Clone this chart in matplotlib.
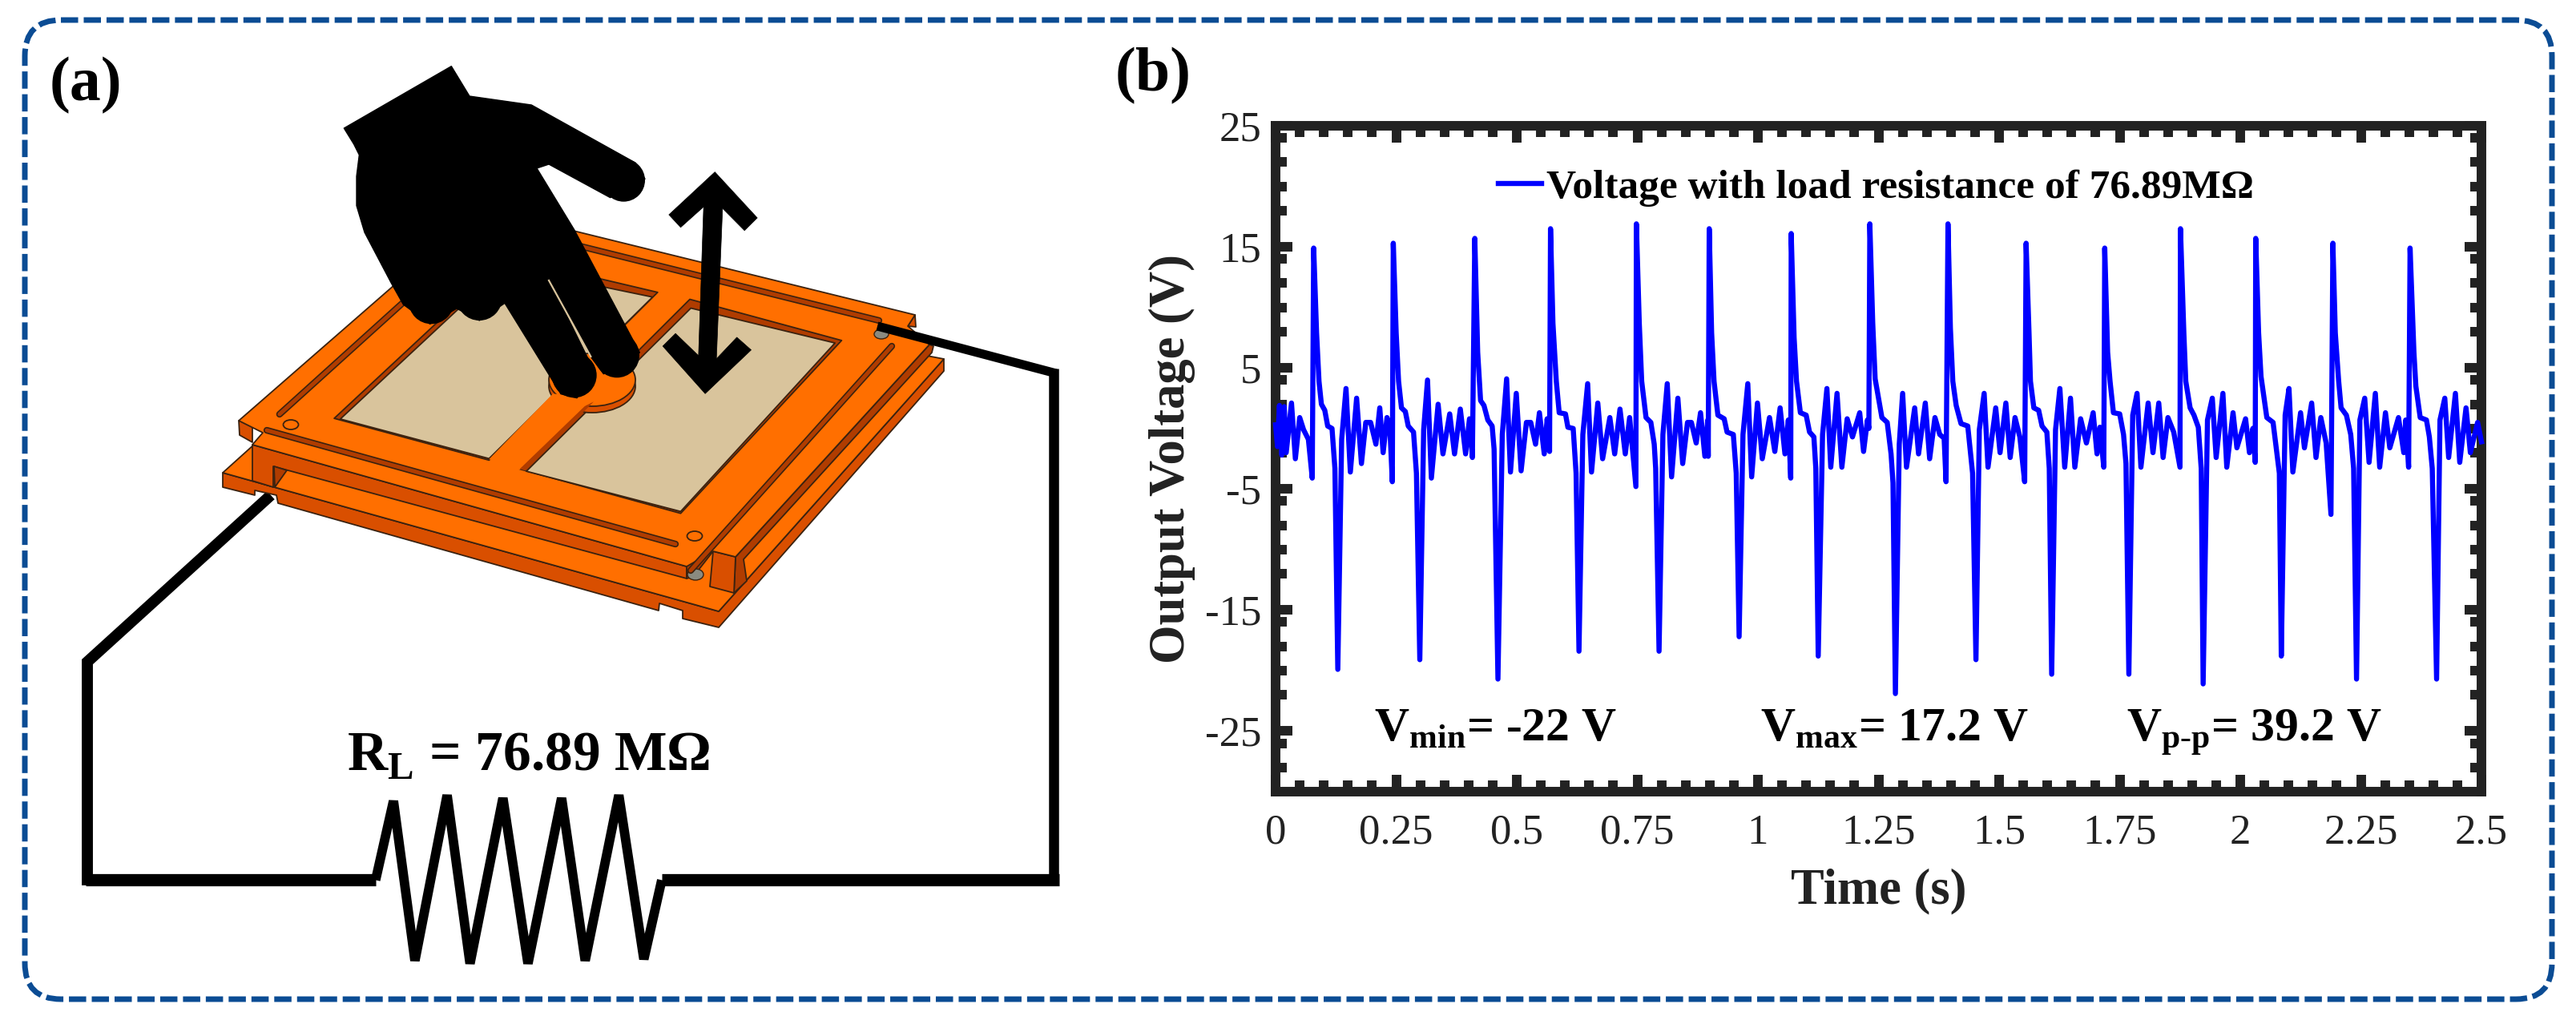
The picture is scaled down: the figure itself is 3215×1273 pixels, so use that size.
import numpy as np
import matplotlib
matplotlib.use('Agg')
import matplotlib.pyplot as plt
from matplotlib.patches import Polygon, Ellipse, Circle, FancyBboxPatch

plt.rcParams['font.family'] = ['Liberation Serif', 'DejaVu Serif']
plt.rcParams['mathtext.fontset'] = 'custom'
plt.rcParams['mathtext.bf'] = 'Liberation Serif:bold'
plt.rcParams['mathtext.rm'] = 'Liberation Serif'

# voltage trace, one spike at a time
t_lead = [0.000, 0.004, 0.008, 0.013, 0.018, 0.022, 0.033, 0.041, 0.050, 0.058, 0.068]
v_lead = [0.3, -1.5, 1.9, -2.2, 1.8, -2.0, 2.1, -2.5, 0.9, -0.1, -0.9]
t_01 = [0.076, 0.079, 0.085, 0.090, 0.095, 0.102, 0.108, 0.117, 0.123, 0.129, 0.137, 0.146, 0.155, 0.168, 0.178, 0.187, 0.197, 0.208, 0.216, 0.223, 0.231, 0.237, 0.242]
v_01 = [-4.1, 14.9, 7.9, 3.9, 2.0, 1.5, 0.2, 0.0, -3.3, -19.9, -0.9, 3.3, -3.6, 2.5, -2.9, 0.5, 0.5, -1.3, 1.7, -2.0, 0.9, 0.0, -4.4]
t_02 = [0.244, 0.250, 0.255, 0.261, 0.269, 0.275, 0.286, 0.292, 0.299, 0.307, 0.315, 0.323, 0.337, 0.347, 0.361, 0.371, 0.383, 0.394, 0.402, 0.408]
v_02 = [15.3, 7.9, 3.9, 1.7, 1.4, 0.2, -0.3, -3.7, -19.1, -0.1, 4.0, -4.1, 2.0, -2.1, 1.2, -2.1, 1.6, -2.1, 0.8, -2.4]
t_03 = [0.413, 0.419, 0.425, 0.432, 0.440, 0.449, 0.453, 0.461, 0.470, 0.479, 0.487, 0.499, 0.509, 0.520, 0.529, 0.539, 0.547, 0.557, 0.563, 0.568]
v_03 = [15.7, 6.3, 2.3, 1.9, 0.7, 0.2, -1.7, -20.7, -0.5, 4.1, -3.6, 2.9, -3.5, 0.5, 0.5, -1.3, 1.3, -2.1, 0.8, -1.9]
t_04 = [0.570, 0.575, 0.582, 0.588, 0.601, 0.606, 0.617, 0.623, 0.629, 0.637, 0.647, 0.655, 0.668, 0.678, 0.693, 0.703, 0.714, 0.725, 0.734, 0.747]
v_04 = [16.5, 8.7, 3.9, 1.3, 1.2, 0.1, 0.0, -3.7, -18.4, -0.5, 3.7, -3.6, 2.1, -2.5, 0.9, -2.1, 1.6, -2.1, 0.9, -4.8]
t_05 = [0.748, 0.754, 0.759, 0.768, 0.778, 0.785, 0.788, 0.795, 0.803, 0.812, 0.821, 0.834, 0.844, 0.854, 0.862, 0.872, 0.881, 0.890, 0.896, 0.897]
v_05 = [16.9, 8.7, 3.9, 0.9, 0.5, -1.3, -3.3, -18.4, -0.5, 3.7, -4.0, 2.5, -2.9, 0.5, 0.5, -1.2, 1.3, -2.3, 0.7, -2.3]
t_06 = [0.899, 0.904, 0.909, 0.917, 0.930, 0.936, 0.949, 0.955, 0.961, 0.969, 0.979, 0.987, 0.999, 1.009, 1.024, 1.035, 1.046, 1.056, 1.063, 1.068]
v_06 = [16.5, 7.9, 3.9, 1.1, 0.8, -0.3, -0.5, -3.7, -17.2, -0.5, 3.7, -4.0, 2.1, -2.5, 0.9, -1.9, 1.7, -2.1, 0.7, -4.1]
t_07 = [1.069, 1.075, 1.080, 1.088, 1.100, 1.107, 1.116, 1.120, 1.125, 1.134, 1.143, 1.151, 1.164, 1.174, 1.185, 1.196, 1.211, 1.219, 1.227, 1.230]
v_07 = [16.1, 7.5, 3.9, 1.3, 1.1, -0.3, -0.7, -3.3, -18.8, -0.5, 3.3, -3.2, 2.9, -3.2, 0.8, -0.7, 1.3, -1.9, 0.7, 0.0]
t_08 = [1.232, 1.238, 1.243, 1.257, 1.268, 1.276, 1.280, 1.285, 1.293, 1.300, 1.308, 1.325, 1.333, 1.347, 1.356, 1.367, 1.377, 1.386, 1.390]
v_08 = [16.9, 8.7, 4.1, 0.9, 0.5, -2.1, -4.5, -21.9, -1.3, 2.9, -3.2, 1.7, -2.1, 2.1, -2.5, 0.9, -0.5, -0.8, -4.4]
t_09 = [1.394, 1.399, 1.404, 1.411, 1.421, 1.435, 1.441, 1.445, 1.452, 1.459, 1.469, 1.477, 1.493, 1.502, 1.514, 1.523, 1.533, 1.543, 1.553]
v_09 = [16.9, 8.3, 3.9, 1.9, 0.4, 0.2, -2.1, -3.7, -19.1, -0.1, 2.9, -3.2, 1.7, -2.0, 2.1, -2.4, 0.9, -0.7, -4.4]
t_10 = [1.556, 1.562, 1.565, 1.572, 1.582, 1.589, 1.599, 1.604, 1.609, 1.617, 1.626, 1.636, 1.648, 1.657, 1.669, 1.681, 1.695, 1.703, 1.709, 1.717]
v_10 = [15.3, 7.9, 3.9, 1.7, 1.5, 0.2, -0.3, -3.3, -20.3, -0.1, 3.3, -3.2, 2.5, -3.2, 0.8, -1.2, 1.3, -2.1, 0.1, -3.2]
t_11 = [1.719, 1.725, 1.730, 1.737, 1.750, 1.758, 1.763, 1.769, 1.777, 1.786, 1.794, 1.809, 1.819, 1.831, 1.840, 1.850, 1.862, 1.875]
v_11 = [14.9, 6.3, 3.9, 1.3, 1.2, -0.5, -2.9, -20.3, 1.1, 2.9, -3.2, 2.1, -2.0, 2.1, -2.4, 0.9, -0.3, -3.2]
t_12 = [1.876, 1.883, 1.887, 1.896, 1.904, 1.913, 1.919, 1.923, 1.932, 1.942, 1.950, 1.964, 1.972, 1.985, 1.993, 2.011, 2.019, 2.026, 2.031]
v_12 = [16.5, 7.9, 3.9, 1.7, 1.1, 0.1, -3.3, -21.1, 0.7, 2.5, -2.4, 2.9, -3.2, 1.3, -1.6, 0.8, -2.0, 0.0, -2.8]
t_13 = [2.032, 2.038, 2.043, 2.055, 2.068, 2.076, 2.081, 2.085, 2.093, 2.101, 2.109, 2.125, 2.133, 2.148, 2.157, 2.167, 2.178, 2.188]
v_13 = [15.7, 7.9, 4.3, 0.9, 0.5, -2.1, -3.7, -18.8, 1.1, 3.3, -3.6, 1.3, -1.6, 2.1, -2.4, 0.9, -1.2, -7.1]
t_14 = [2.192, 2.197, 2.204, 2.209, 2.220, 2.229, 2.235, 2.241, 2.248, 2.258, 2.267, 2.280, 2.289, 2.301, 2.310, 2.328, 2.339, 2.343, 2.349]
v_14 = [15.3, 7.9, 3.9, 1.7, 1.1, -0.5, -3.3, -20.7, 0.7, 2.5, -2.8, 2.9, -3.2, 1.3, -1.6, 0.9, -2.0, 0.7, -3.2]
t_15 = [2.352, 2.360, 2.364, 2.373, 2.386, 2.392, 2.398, 2.407, 2.414, 2.424, 2.432, 2.446, 2.455, 2.468, 2.477, 2.492, 2.500]
v_15 = [14.9, 6.3, 3.5, 0.9, 0.7, -0.7, -3.3, -20.7, 0.7, 2.5, -2.4, 2.9, -2.8, 1.7, -2.0, 0.5, -1.1]

x_major = [0, 0.25, 0.5, 0.75, 1, 1.25, 1.5, 1.75, 2, 2.25, 2.5]
x_labels = ['0', '0.25', '0.5', '0.75', '1', '1.25', '1.5', '1.75', '2', '2.25', '2.5']
x_minor = [0.05, 0.1, 0.15, 0.2, 0.3, 0.35, 0.4, 0.45, 0.55, 0.6, 0.65, 0.7, 0.8, 0.85, 0.9, 0.95,
           1.05, 1.1, 1.15, 1.2, 1.3, 1.35, 1.4, 1.45, 1.55, 1.6, 1.65, 1.7, 1.8, 1.85, 1.9, 1.95,
           2.05, 2.1, 2.15, 2.2, 2.3, 2.35, 2.4, 2.45]
y_major = [25, 15, 5, -5, -15, -25]
y_labels = ['25', '15', '5', '-5', '-15', '-25']
y_minor = [24, 22, 20, 18, 14, 12, 10, 8, 4, 2, 0, -2, -6, -8, -10, -12, -16, -18, -20, -22, -26, -28]

legend_text = 'Voltage with load resistance of 76.89M\u03a9'
vmin_text = r'V$_{\mathbf{min}}$= -22 V'
vmax_text = r'V$_{\mathbf{max}}$= 17.2 V'
vpp_text = r'V$_{\mathbf{p}\text{-}\mathbf{p}}$= 39.2 V'
rl_text = 'R$_{\\mathbf{L}}$ = 76.89 M\u03a9'

W, H = 3215, 1273
BRIGHT = '#ff6f00'
SIDE = '#d94f00'
SLOT = '#b03c00'
TAN = '#d9c49c'
EDGE = '#3a2210'
BLUE = '#0b4c94'


# the first crops of the drawing were stretched, these bring the read points back to pixels
def z3(pts):
    return [(250 + x / 1.568, 100 + y / 2.53) for x, y in pts]


def z4(pts):
    return [(x / 1.12, 700 + y / 2.736) for x, y in pts]


# square 3x crop around the hand
def h3(pts):
    return [(400 + x / 3, 70 + y / 3) for x, y in pts]


fig = plt.figure(figsize=(W / 100, H / 100), dpi=100, facecolor='white')

# panel (a) and the frame, drawn in picture pixels
bg = fig.add_axes([0, 0, 1, 1])
bg.set_xlim(0, W)
bg.set_ylim(H, 0)
bg.axis('off')

bg.add_patch(FancyBboxPatch((66, 60), 3084, 1152, boxstyle='round,pad=35,rounding_size=45',
                            fc='none', ec=BLUE, lw=5, ls=(0, (3.1, 1.0)), capstyle='butt'))


def poly(pts, fc, ec=EDGE, lw=1.3, z=2):
    bg.add_patch(Polygon(pts, closed=True, fc=fc, ec=ec, lw=lw, zorder=z, joinstyle='round'))


def wire(pts, lw, z=1, join='miter'):
    xs, ys = zip(*pts)
    bg.plot(xs, ys, color='black', lw=lw, zorder=z, solid_joinstyle=join, solid_capstyle='butt')


# circuit wires
wire([(338, 618), (109, 826), (109, 1098), (469, 1098)], 10)
wire(z4([(525, 1090), (550, 820), (580, 1365), (625, 800), (657, 1375), (703, 810), (738, 1375),
         (785, 810), (818, 1365), (865, 800), (900, 1360), (925, 1090)]), 8.5, join='bevel')
bg.plot([107, 469], [1098, 1098], color='black', lw=11, solid_capstyle='butt', zorder=1)
bg.plot([826, 1322], [1098, 1098], color='black', lw=11, solid_capstyle='butt', zorder=1)
bg.plot([1315, 1315], [460, 1098], color='black', lw=9, solid_capstyle='butt', zorder=1)

# lower plate
poly([(278, 590), (278, 608), (318, 618), (318, 612), (345, 618), (347, 628), (822, 762), (823, 753),
      (852, 762), (852, 772), (897, 783), (1178, 463), (1178, 448), (897, 763)], SIDE)
poly([(278, 590), (600, 300), (1157, 444), (1178, 448), (897, 763)], BRIGHT)

# sides of the upper plate and of the spacer rail
poly([(918, 695), (1160, 430), (1165, 432), (1163, 440), (928, 698), (932, 725), (916, 740)], SLOT, z=3)
poly([(890, 688), (918, 695), (916, 740), (886, 732)], SIDE, z=3)
poly([(298, 525), (299, 543), (315, 552), (315, 525)], SIDE, z=3)
poly([(315, 555), (857, 707), (857, 722), (341, 582), (341, 608), (315, 600)], SIDE, z=3)
poly([(342, 582), (358, 587), (343, 608)], SLOT, z=3)
poly([(857, 707), (890, 675), (890, 688), (865, 720), (857, 722)], SLOT, z=3)
poly([(1133, 407), (1142, 393), (1143, 408)], SIDE, z=3)

# upper plate
poly([(298, 525), (602, 260), (1142, 393), (1133, 407), (1160, 430), (918, 695), (890, 688), (857, 707),
      (315, 555), (328, 540)], BRIGHT, z=4)

# windows with the tan sheet behind them
poly(z3([(262, 1068), (565, 1200), (895, 670), (790, 630), (600, 560)]), SLOT, z=5)
poly(z3([(274, 1070), (565, 1195), (885, 685), (795, 655), (600, 580)]), TAN, z=5)
poly(z3([(625, 1228), (940, 1368), (1255, 822), (958, 692)]), SLOT, z=5)
poly(z3([(638, 1235), (940, 1362), (1242, 830), (960, 720)]), TAN, z=5)

# long slots and the holes
for a, b in [(z3([(155, 1055)])[0], z3([(395, 705)])[0]),
             (z3([(745, 525)])[0], (1097, 400)),
             ((333, 537), (843, 679)),
             ((862, 712), (1113, 432))]:
    bg.plot([a[0], b[0]], [a[1], b[1]], color=EDGE, lw=6, solid_capstyle='round', zorder=6)
    bg.plot([a[0], b[0]], [a[1], b[1]], color=SLOT, lw=3.6, solid_capstyle='round', zorder=6)
for c in [(363, 530), (867, 669)]:
    bg.add_patch(Ellipse(c, 19, 12, fc=BRIGHT, ec=EDGE, lw=1.3, zorder=6))
bg.add_patch(Ellipse((868, 717), 20, 14, fc='#8a8a80', ec=EDGE, lw=1, zorder=3))
bg.add_patch(Ellipse((1100, 417), 18, 12, fc='#8a8a80', ec=EDGE, lw=1, zorder=6))

# round button at the end of the middle bar
bg.add_patch(Ellipse((739, 482), 108, 66, fc=SIDE, ec=EDGE, lw=1.3, zorder=6))
bg.add_patch(Ellipse((739, 474), 108, 66, fc=BRIGHT, ec=EDGE, lw=1.3, zorder=6))
poly(z3([(565, 1197), (625, 1230), (770, 1005), (690, 990)]), BRIGHT, ec='none', z=6)
poly(z3([(625, 1228), (636, 1233), (770, 1015), (752, 1030)]), SLOT, ec='none', z=6)

# wire on the far corner
wire([(1095, 407), (1318, 466)], 8, z=7)

# hand, round tips added as circles
hand = [(88, 270), (490, 38), (558, 150), (790, 183), (1180, 400), (1215, 460), (1085, 530), (855, 405),
        (810, 420), (950, 650), (1195, 1110), (1060, 1190), (1015, 1130), (855, 835), (1030, 1190),
        (960, 1280), (900, 1265), (690, 925), (595, 990), (510, 945), (410, 1003), (310, 930),
        (265, 850), (165, 660), (135, 560), (135, 450), (145, 370), (125, 330)]
poly(h3(hand), 'black', ec='black', lw=1, z=8)
for (cx, cy), r in [((1135, 465), 80), ((950, 1195), 84), ((1110, 1120), 84), ((595, 905), 85), ((415, 918), 85)]:
    c = h3([(cx, cy)])[0]
    bg.add_patch(Circle(c, r / 3, fc='black', ec='none', zorder=8))
gap = h3([(855, 840), (1012, 1125)])
bg.plot([gap[0][0], gap[1][0]], [gap[0][1], gap[1][1]], color=TAN, lw=1.6, zorder=9)

# double arrow
arrow = [(1007, 290), (1090, 435), (1065, 475), (1022, 405), (1010, 880), (1050, 812), (1078, 852),
         (988, 990), (905, 840), (930, 800), (975, 870), (985, 400), (940, 465), (917, 425)]
poly(z3(arrow), 'black', ec='black', lw=0.5, z=8)

# panel letters and the resistor value
bg.text(62, 125, '(a)', fontsize=56, fontweight='bold', va='baseline')
bg.text(1392, 113, '(b)', fontsize=56, fontweight='bold', va='baseline')
bg.text(433, 962, rl_text, fontsize=50, fontweight='bold', va='baseline')

# panel (b)
ax = fig.add_axes([1592 / W, 1 - 988 / H, 1505 / W, 831 / H])
time = np.concatenate([t_lead, t_01, t_02, t_03, t_04, t_05, t_06, t_07, t_08, t_09, t_10, t_11, t_12, t_13, t_14, t_15])
volts = np.concatenate([v_lead, v_01, v_02, v_03, v_04, v_05, v_06, v_07, v_08, v_09, v_10, v_11, v_12, v_13, v_14, v_15])
ax.plot(time, volts, color='#0000ff', lw=4.6, solid_joinstyle='round', label=legend_text, zorder=5, clip_on=False)
ax.set_xlim(0, 2.5)
ax.set_ylim(-30, 25)
ax.set_xticks(x_major)
ax.set_xticklabels(x_labels)
ax.set_xticks(x_minor, minor=True)
ax.set_yticks(y_major)
ax.set_yticklabels(y_labels)
ax.set_yticks(y_minor, minor=True)
ax.tick_params(which='major', direction='in', length=15, width=8.6, color='#222222', top=True, right=True, labelsize=38, labelcolor='#222222')
ax.tick_params(which='minor', direction='in', length=10, width=8.6, color='#222222', top=True, right=True)
ax.tick_params(axis='x', which='major', pad=20)
ax.tick_params(axis='y', which='major', pad=13)
for s in ax.spines.values():
    s.set_linewidth(8.6)
    s.set_color('#222222')
ax.set_xlabel('Time (s)', fontsize=45, fontweight='bold', labelpad=14, color='#222222')
ax.set_ylabel('Output Voltage (V)', fontsize=45, fontweight='bold', labelpad=8, color='#222222')
ax.legend(loc='center left', bbox_to_anchor=(0.185, 0.907), frameon=False, prop={'size': 37, 'weight': 'bold'},
          handlelength=1.05, handletextpad=0.1, borderpad=0, borderaxespad=0)
ax.text(0.204, -25.8, vmin_text, fontsize=43, fontweight='bold', va='baseline')
ax.text(1.005, -25.8, vmax_text, fontsize=43, fontweight='bold', va='baseline')
ax.text(1.764, -25.8, vpp_text, fontsize=43, fontweight='bold', va='baseline')

fig.savefig('out.png', dpi=100)
